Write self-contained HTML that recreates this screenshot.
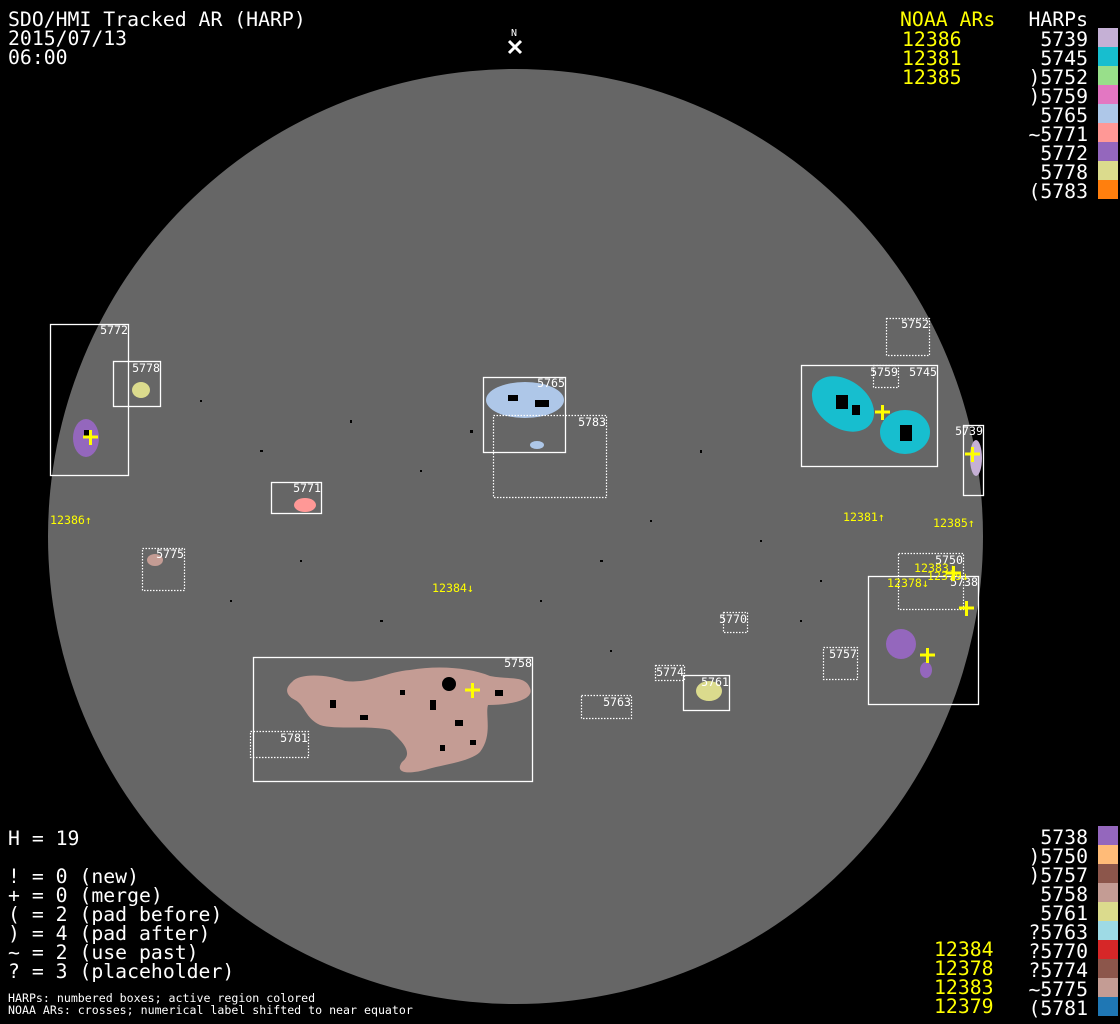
<!DOCTYPE html>
<html><head><style>
html,body{margin:0;padding:0;background:#000;}
svg{display:block;}
text{font-family:"DejaVu Sans Mono","Liberation Mono",monospace;}
</style></head><body>
<svg width="1120" height="1024" viewBox="0 0 1120 1024" xmlns="http://www.w3.org/2000/svg">
<rect width="1120" height="1024" fill="#000"/>
<circle cx="515.5" cy="536.5" r="467.5" fill="#666"/>
<text x="514" y="36" font-size="10" fill="#fff" text-anchor="middle">N</text>
<path d="M509,41 L521,53 M521,41 L509,53" stroke="#fff" stroke-width="3"/>

<g font-size="19.8" fill="#fff">
<text x="8" y="26">SDO/HMI Tracked AR (HARP)</text>
<text x="8" y="45">2015/07/13</text>
<text x="8" y="64">06:00</text>
<text x="8" y="845">H = 19</text>
<text x="8" y="883">! = 0 (new)</text>
<text x="8" y="902">+ = 0 (merge)</text>
<text x="8" y="921">( = 2 (pad before)</text>
<text x="8" y="940">) = 4 (pad after)</text>
<text x="8" y="959">~ = 2 (use past)</text>
<text x="8" y="978">? = 3 (placeholder)</text>
</g>
<g font-size="11.6" fill="#fff">
<text x="8" y="1002">HARPs: numbered boxes; active region colored</text>
<text x="8" y="1014">NOAA ARs: crosses; numerical label shifted to near equator</text>
</g>

<g font-size="19.8" fill="#ff0">
<text x="900" y="26">NOAA ARs</text>
<text x="902" y="46">12386</text>
<text x="902" y="65">12381</text>
<text x="902" y="84">12385</text>
<text x="934" y="956">12384</text>
<text x="934" y="975">12378</text>
<text x="934" y="994">12383</text>
<text x="934" y="1013">12379</text>
</g>
<g font-size="19.8" fill="#fff" text-anchor="end">
<text x="1088" y="26">HARPs</text>
<text x="1088" y="46">5739</text>
<text x="1088" y="65">5745</text>
<text x="1088" y="84">)5752</text>
<text x="1088" y="103">)5759</text>
<text x="1088" y="122">5765</text>
<text x="1088" y="141">~5771</text>
<text x="1088" y="160">5772</text>
<text x="1088" y="179">5778</text>
<text x="1088" y="198">(5783</text>
<text x="1088" y="844">5738</text>
<text x="1088" y="863">)5750</text>
<text x="1088" y="882">)5757</text>
<text x="1088" y="901">5758</text>
<text x="1088" y="920">5761</text>
<text x="1088" y="939">?5763</text>
<text x="1088" y="958">?5770</text>
<text x="1088" y="977">?5774</text>
<text x="1088" y="996">~5775</text>
<text x="1088" y="1015">(5781</text>
</g>
<g>
<rect x="1098" y="28" width="20" height="19" fill="#c5b0d5"/>
<rect x="1098" y="47" width="20" height="19" fill="#17becf"/>
<rect x="1098" y="66" width="20" height="19" fill="#98df8a"/>
<rect x="1098" y="85" width="20" height="19" fill="#e377c2"/>
<rect x="1098" y="104" width="20" height="19" fill="#aec7e8"/>
<rect x="1098" y="123" width="20" height="19" fill="#ff9896"/>
<rect x="1098" y="142" width="20" height="19" fill="#9467bd"/>
<rect x="1098" y="161" width="20" height="19" fill="#dbdb8d"/>
<rect x="1098" y="180" width="20" height="19" fill="#ff7f0e"/>
<rect x="1098" y="826" width="20" height="19" fill="#9467bd"/>
<rect x="1098" y="845" width="20" height="19" fill="#ffbb78"/>
<rect x="1098" y="864" width="20" height="19" fill="#8c564b"/>
<rect x="1098" y="883" width="20" height="19" fill="#c49c94"/>
<rect x="1098" y="902" width="20" height="19" fill="#dbdb8d"/>
<rect x="1098" y="921" width="20" height="19" fill="#9edae5"/>
<rect x="1098" y="940" width="20" height="19" fill="#d62728"/>
<rect x="1098" y="959" width="20" height="19" fill="#8c564b"/>
<rect x="1098" y="978" width="20" height="19" fill="#c49c94"/>
<rect x="1098" y="997" width="20" height="19" fill="#1f77b4"/>
</g>

<ellipse cx="86" cy="438" rx="13" ry="19" fill="#9467bd"/>
<ellipse cx="141" cy="390" rx="9" ry="8" fill="#dbdb8d"/>
<ellipse cx="525" cy="400" rx="39" ry="18" fill="#aec7e8"/>
<ellipse cx="537" cy="445" rx="7" ry="4" fill="#aec7e8"/>
<ellipse cx="843" cy="404" rx="34" ry="24" transform="rotate(35 843 404)" fill="#17becf"/>
<ellipse cx="905" cy="432" rx="25" ry="22" fill="#17becf"/>
<ellipse cx="976" cy="458" rx="6" ry="18" fill="#c5b0d5"/>
<ellipse cx="305" cy="505" rx="11" ry="7" fill="#ff9896"/>
<ellipse cx="155" cy="560" rx="8" ry="6" fill="#c49c94"/>
<ellipse cx="901" cy="644" rx="15" ry="15" fill="#9467bd"/>
<ellipse cx="926" cy="670" rx="6" ry="8" fill="#9467bd"/>
<ellipse cx="709" cy="691" rx="13" ry="10" fill="#dbdb8d"/>
<path d="M292,682 C300,672 330,675 345,681 C370,684 385,672 410,670 C440,665 470,668 490,676 C510,680 525,675 530,688 C535,700 510,705 488,705 C485,715 493,735 480,752 C470,762 440,765 425,770 C405,775 395,772 402,762 C415,752 400,740 390,730 C370,725 335,730 320,725 C305,718 305,705 295,700 C285,695 285,688 292,682 Z" fill="#c49c94"/>
<circle cx="449" cy="684" r="7" fill="#000"/>
<g fill="#000">
<rect x="836" y="395" width="12" height="14"/><rect x="852" y="405" width="8" height="10"/>
<rect x="900" y="425" width="12" height="16"/><rect x="84" y="430" width="5" height="8"/>
<rect x="508" y="395" width="10" height="6"/><rect x="535" y="400" width="14" height="7"/>
<rect x="330" y="700" width="6" height="8"/><rect x="360" y="715" width="8" height="5"/>
<rect x="430" y="700" width="6" height="10"/><rect x="455" y="720" width="8" height="6"/>
<rect x="400" y="690" width="5" height="5"/><rect x="470" y="740" width="6" height="5"/>
<rect x="495" y="690" width="8" height="6"/><rect x="440" y="745" width="5" height="6"/>
</g>

<g fill="none" stroke="#fff" stroke-width="1.3">
<rect x="50.5" y="324.5" width="78" height="151"/>
<rect x="113.5" y="361.5" width="47" height="45"/>
<rect x="483.5" y="377.5" width="82" height="75"/>
<rect x="801.5" y="365.5" width="136" height="101"/>
<rect x="963.5" y="425.5" width="20" height="70"/>
<rect x="271.5" y="482.5" width="50" height="31"/>
<rect x="253.5" y="657.5" width="279" height="124"/>
<rect x="683.5" y="675.5" width="46" height="35"/>
<rect x="868.5" y="576.5" width="110" height="128"/>
</g>
<g fill="none" stroke="#fff" stroke-width="1.2" stroke-dasharray="1.5 1.5">
<rect x="886.5" y="318.5" width="43" height="37"/>
<rect x="873.5" y="365.5" width="25" height="22"/>
<rect x="493.5" y="415.5" width="113" height="82"/>
<rect x="142.5" y="548.5" width="42" height="42"/>
<rect x="898.5" y="553.5" width="65" height="56"/>
<rect x="723.5" y="612.5" width="24" height="20"/>
<rect x="823.5" y="647.5" width="34" height="32"/>
<rect x="655.5" y="665.5" width="29" height="15"/>
<rect x="581.5" y="695.5" width="50" height="23"/>
<rect x="250.5" y="731.5" width="58" height="26"/>
</g>
<g font-size="11.6" fill="#fff" text-anchor="end">
<text x="128" y="334">5772</text>
<text x="160" y="372">5778</text>
<text x="565" y="387">5765</text>
<text x="606" y="426">5783</text>
<text x="937" y="376">5745</text>
<text x="898" y="376">5759</text>
<text x="929" y="328">5752</text>
<text x="983" y="435">5739</text>
<text x="321" y="492">5771</text>
<text x="184" y="558">5775</text>
<text x="963" y="564">5750</text>
<text x="978" y="586">5738</text>
<text x="747" y="623">5770</text>
<text x="857" y="658">5757</text>
<text x="684" y="676">5774</text>
<text x="729" y="686">5761</text>
<text x="631" y="706">5763</text>
<text x="532" y="667">5758</text>
<text x="308" y="742">5781</text>
</g>
<g font-size="11.6" fill="#ff0">
<text x="50" y="524">12386↑</text>
<text x="843" y="521">12381↑</text>
<text x="933" y="527">12385↑</text>
<text x="432" y="592">12384↓</text>
<text x="914" y="572">12383↓</text>
<text x="927" y="580">12379↓</text>
<text x="887" y="587">12378↓</text>
</g>
<g stroke="#ff0" stroke-width="3">
<path d="M83,437h15M90.5,430v15"/>
<path d="M875,412h15M882.5,405v15"/>
<path d="M965,454h15M972.5,447v15"/>
<path d="M465,690h15M472.5,683v15"/>
<path d="M946,573h15M953.5,566v15"/>
<path d="M959,608h15M966.5,601v15"/>
<path d="M920,655h15M927.5,648v15"/>
</g>
<g fill="#000">
<rect x="200" y="400" width="2" height="2"/><rect x="260" y="450" width="3" height="2"/>
<rect x="350" y="420" width="2" height="3"/><rect x="420" y="470" width="2" height="2"/>
<rect x="600" y="560" width="3" height="2"/><rect x="650" y="520" width="2" height="2"/>
<rect x="700" y="450" width="2" height="3"/><rect x="760" y="540" width="2" height="2"/>
<rect x="540" y="600" width="2" height="2"/><rect x="380" y="620" width="3" height="2"/>
<rect x="610" y="650" width="2" height="2"/><rect x="800" y="620" width="2" height="2"/>
<rect x="470" y="430" width="3" height="3"/><rect x="820" y="580" width="2" height="2"/>
<rect x="230" y="600" width="2" height="2"/><rect x="300" y="560" width="2" height="2"/>
</g>
</svg>
</body></html>
